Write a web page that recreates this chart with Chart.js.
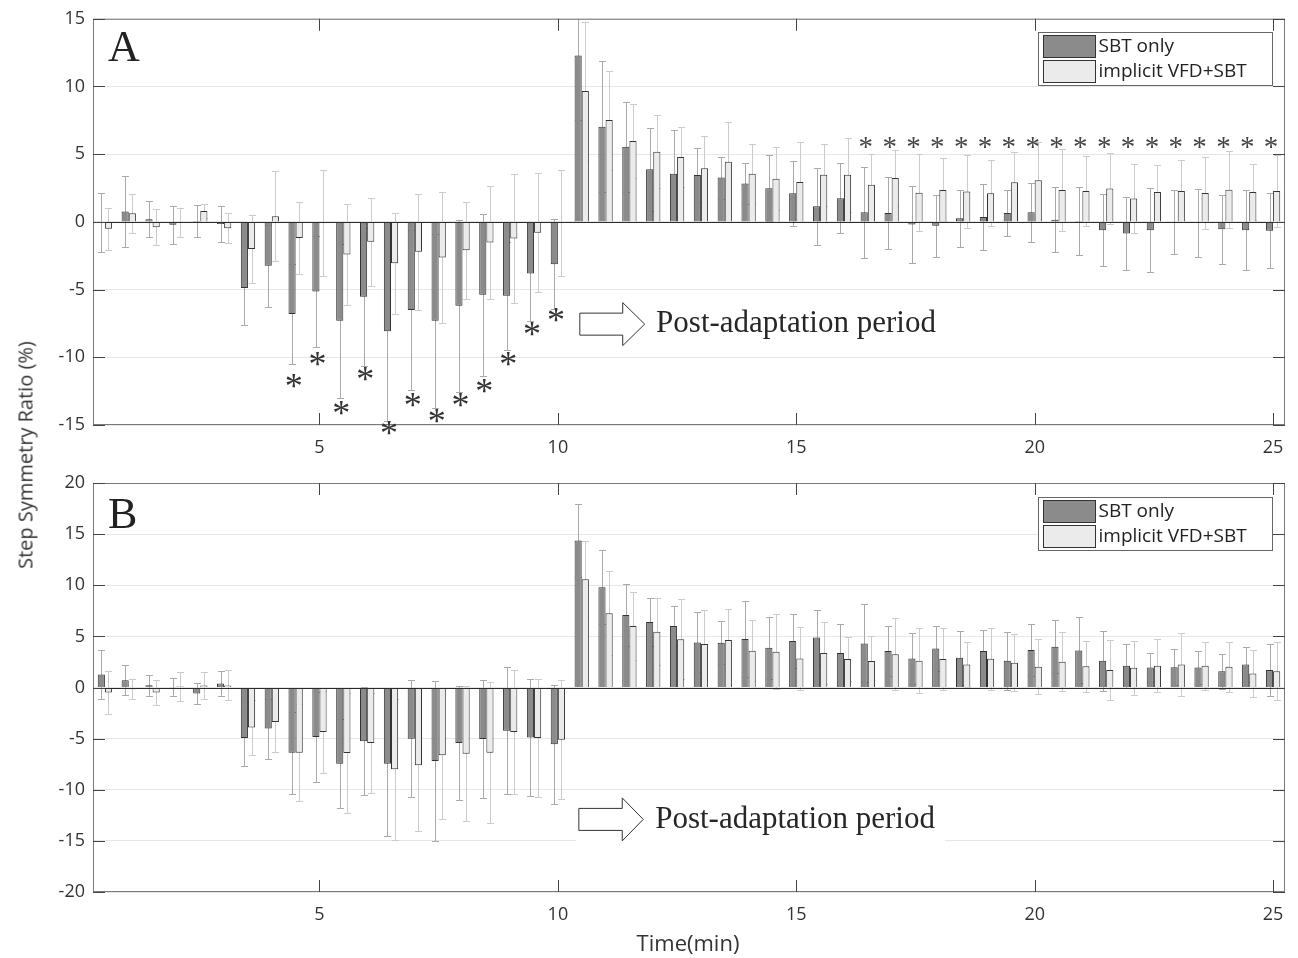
<!DOCTYPE html>
<html>
<head>
<meta charset="utf-8">
<script src="https://cdn.jsdelivr.net/npm/chart.js@4.4.0/dist/chart.umd.min.js"></script>
<style>
  body { margin: 0; background: #fff; width: 1298px; height: 958px; position: relative; overflow: hidden; font-family: 'Open Sans', sans-serif; }
  canvas { position: absolute; left: 0; }
  #chartA { top: 0; }
  #chartB { top: 460px; }
  .axTitle { position: absolute; white-space: nowrap; color: #333; transform: translate(-50%, -50%); }
  #ylab { left: 25px; top: 455px; font-size: 20px; transform: translate(-50%, -50%) rotate(-90deg); }
  #xlab { left: 688px; top: 942px; font-size: 22px; }
</style>
</head>
<body>
<canvas id="chartA" width="1298" height="460"></canvas>
<canvas id="chartB" width="1298" height="498"></canvas>
<div id="ylab" class="axTitle">Step Symmetry Ratio (%)</div>
<div id="xlab" class="axTitle">Time(min)</div>
<script>
// time points (min), one group of two bars each
const times = ['0.5','1','1.5','2','2.5','3','3.5','4','4.5','5','5.5','6','6.5','7','7.5','8','8.5','9','9.5','10',
  '10.5','11','11.5','12','12.5','13','13.5','14','14.5','15','15.5','16','16.5','17','17.5','18','18.5','19','19.5','20',
  '20.5','21','21.5','22','22.5','23','23.5','24','24.5','25'];
const xTickLabels = ['5','10','15','20','25'];
const seriesNames = ['SBT only', 'implicit VFD+SBT'];

// panel A
const sbtA = [-0.05, 0.76, 0.2, -0.21, 0.06, -0.15, -4.89, -3.24, -6.81, -5.14, -7.3, -5.53, -8.08, -6.51, -7.3, -6.19, -5.38, -5.45, -3.81, -3.12,
  12.29, 7.03, 5.55, 3.88, 3.56, 3.46, 3.27, 2.83, 2.48, 2.11, 1.15, 1.74, 0.71, 0.66, -0.2, -0.29, 0.27, 0.37, 0.66, 0.71,
  0.15, 0.07, -0.61, -0.86, -0.61, 0.0, -0.08, -0.54, -0.61, -0.66];
const sbtSdA = [2.2, 2.64, 1.33, 1.39, 1.17, 1.3, 2.73, 3.03, 3.68, 4.12, 5.7, 5.08, 6.59, 5.9, 6.43, 6.34, 6.0, 4.0, 3.49, 3.32,
  4.8, 4.84, 3.32, 3.07, 3.2, 2.0, 1.55, 1.54, 2.43, 2.38, 2.85, 2.58, 3.36, 2.69, 2.84, 2.31, 2.12, 2.41, 1.67, 2.18,
  2.4, 2.48, 2.67, 2.71, 3.1, 2.37, 2.52, 2.56, 2.95, 2.76];
const vfdA = [-0.5, 0.63, -0.4, -0.02, 0.81, -0.47, -2.0, 0.42, -1.18, -0.08, -2.41, -1.46, -3.06, -2.2, -2.63, -2.1, -1.52, -1.23, -0.81, -0.08,
  9.66, 7.52, 5.97, 5.18, 4.79, 3.96, 4.45, 3.56, 3.19, 2.95, 3.49, 3.49, 2.75, 3.24, 2.16, 2.36, 2.24, 2.11, 2.92, 3.07,
  2.36, 2.29, 2.46, 1.72, 2.21, 2.29, 2.14, 2.38, 2.21, 2.29];
const vfdSdA = [1.56, 1.46, 1.33, 1.08, 0.5, 1.1, 2.53, 3.34, 2.68, 3.9, 3.71, 3.25, 3.75, 4.29, 4.84, 3.6, 4.18, 4.79, 4.4, 3.95,
  5.1, 3.66, 2.75, 2.71, 2.24, 2.38, 2.95, 2.16, 2.34, 2.97, 2.28, 2.73, 2.24, 2.04, 2.83, 2.33, 2.68, 2.43, 2.24, 2.83,
  3.0, 2.58, 2.65, 2.53, 1.99, 2.28, 2.68, 2.85, 2.04, 2.65];
const starLowTimesA = ['4.5','5','5.5','6','6.5','7','7.5','8','8.5','9','9.5','10'];
const starLowValsA = [-11.72, -10.12, -13.71, -11.2, -15.25, -13.12, -14.37, -13.12, -12.09, -10.1, -7.89, -6.85];
const starHighTimesA = ['16.5','17','17.5','18','18.5','19','19.5','20','20.5','21','21.5','22','22.5','23','23.5','24','24.5','25'];
const starHighValsA = [5.85, 5.85, 5.85, 5.85, 5.85, 5.85, 5.85, 5.85, 5.85, 5.85, 5.85, 5.85, 5.85, 5.85, 5.85, 5.85, 5.85, 5.85];

// panel B
const sbtB = [1.27, 0.72, 0.23, 0.03, -0.59, 0.39, -4.93, -4.02, -6.37, -4.84, -7.45, -5.26, -7.45, -5.0, -7.19, -5.42, -5.03, -4.22, -4.9, -5.56,
  14.38, 9.8, 7.09, 6.41, 6.01, 4.41, 4.38, 4.74, 3.89, 4.54, 4.9, 3.37, 4.31, 3.56, 2.84, 3.82, 2.91, 3.56, 2.61, 3.66,
  3.99, 3.63, 2.61, 2.12, 1.96, 1.99, 1.96, 1.6, 2.25, 1.7];
const sbtSdB = [2.4, 1.44, 1.02, 0.87, 1.03, 1.19, 2.75, 2.94, 4.02, 4.41, 4.35, 5.29, 7.06, 5.75, 7.8, 5.6, 5.8, 6.24, 5.75, 5.83,
  3.6, 3.6, 3.0, 2.32, 2.0, 2.94, 2.09, 3.69, 3.04, 2.62, 2.68, 2.81, 3.82, 2.45, 2.45, 2.22, 2.65, 2.03, 2.81, 2.52,
  2.61, 3.23, 2.94, 2.12, 1.44, 1.74, 1.63, 1.7, 1.74, 2.52];
const vfdB = [-0.49, -0.16, -0.49, 0.13, 0.2, 0.2, -3.92, -3.37, -6.37, -4.35, -6.41, -5.42, -8.0, -7.61, -6.63, -6.47, -6.37, -4.35, -4.93, -5.1,
  10.59, 7.25, 6.01, 5.46, 4.71, 4.25, 4.64, 3.59, 3.5, 2.84, 3.37, 2.78, 2.58, 3.24, 2.61, 2.78, 2.25, 2.81, 2.42, 2.03,
  2.52, 2.09, 1.7, 1.93, 2.12, 2.25, 2.12, 2.03, 1.37, 1.6];
const vfdSdB = [2.09, 0.97, 1.22, 1.42, 1.34, 1.47, 2.7, 2.92, 4.77, 4.05, 5.87, 4.93, 6.9, 6.4, 6.24, 6.63, 6.9, 6.08, 5.81, 5.82,
  3.72, 4.1, 3.35, 3.3, 3.9, 3.3, 3.05, 2.99, 3.66, 3.09, 3.04, 2.12, 2.48, 3.53, 3.17, 3.07, 2.24, 3.04, 2.8, 2.71,
  2.87, 2.5, 2.94, 2.62, 2.59, 3.07, 2.37, 2.45, 2.33, 2.86];

Chart.defaults.font.family = "'Open Sans', sans-serif";
Chart.defaults.font.size = 18;
Chart.defaults.color = '#333';

function line(ctx, x1, y1, x2, y2) {
  ctx.beginPath(); ctx.moveTo(x1, y1); ctx.lineTo(x2, y2); ctx.stroke();
}

function drawStars(ctx, chart, tlist, vlist, font, color) {
  const x = chart.scales.x, y = chart.scales.y;
  ctx.font = font;
  ctx.fillStyle = color;
  ctx.textAlign = 'center';
  ctx.textBaseline = 'alphabetic';
  const m = ctx.measureText('*');
  const off = (m.actualBoundingBoxAscent - m.actualBoundingBoxDescent) / 2;
  tlist.forEach((t, i) => {
    const px = x.getPixelForValue(times.indexOf(t)) - 2;
    ctx.fillText('*', px, y.getPixelForValue(vlist[i]) + off);
  });
}

// error bars, baseline, box, inner ticks, letters, arrow, legend, stars
const panelDecor = {
  id: 'panelDecor',
  beforeDatasetsDraw(chart) {
    const {ctx, chartArea: a, scales: {y}} = chart;
    ctx.save();
    ctx.beginPath(); ctx.rect(a.left, a.top, a.width, a.height); ctx.clip();
    ctx.lineWidth = 1;
    chart.data.datasets.forEach((ds, di) => {
      ctx.strokeStyle = ds.errColor;
      chart.getDatasetMeta(di).data.forEach((bar, i) => {
        const m = ds.data[i], s = ds.sd[i];
        const y1 = Math.round(y.getPixelForValue(m + s)) + 0.5;
        const y2 = Math.round(y.getPixelForValue(m - s)) + 0.5;
        const cx = Math.round(bar.x) + 0.5;
        line(ctx, cx, y1, cx, y2);
        line(ctx, cx - 3.5, y1, cx + 3.5, y1);
        line(ctx, cx - 3.5, y2, cx + 3.5, y2);
      });
    });
    ctx.restore();
  },
  afterDatasetsDraw(chart, args, o) {
    const {ctx, chartArea: a, scales: {x, y}} = chart;
    ctx.save();
    ctx.lineWidth = 1;
    // bar baseline
    const y0 = Math.round(y.getPixelForValue(0)) + 0.5;
    ctx.strokeStyle = '#2a2a2a';
    line(ctx, a.left, y0, a.right, y0);
    // axes box
    ctx.strokeStyle = '#7a7a7a';
    ctx.strokeRect(a.left + 0.5, a.top + 0.5, a.width - 1, a.height - 1);
    ctx.strokeStyle = '#444';
    xTickLabels.forEach(l => {
      const px = Math.round(x.getPixelForValue(times.indexOf(l))) + 0.5;
      line(ctx, px, a.top, px, a.top + 12);
      line(ctx, px, a.bottom, px, a.bottom - 12);
    });
    y.ticks.forEach(t => {
      const py = Math.round(y.getPixelForValue(t.value)) + 0.5;
      line(ctx, a.left, py, a.left + 12, py);
      line(ctx, a.right, py, a.right - 12, py);
    });
    // panel letter
    ctx.fillStyle = '#222';
    ctx.font = '44px "Liberation Serif"';
    ctx.textAlign = 'left';
    ctx.textBaseline = 'alphabetic';
    ctx.fillText(o.letter, a.left + 15, a.top + o.letterBase);
    // arrow + label
    const xAt = t => x.getPixelForValue(2 * t - 1);
    const ax0 = xAt(o.arrow[0]), ax1 = xAt(o.arrow[1]), ax2 = xAt(o.arrow[2]);
    const ay = y.getPixelForValue(o.arrowY);
    ctx.font = '31px "Liberation Serif"';
    const tx = xAt(o.textT);
    const tw = ctx.measureText(o.text).width;
    ctx.fillStyle = '#fff';
    ctx.fillRect(ax0 - 3, ay - 26, tx + tw + 10 - (ax0 - 3), 54);
    ctx.beginPath();
    ctx.moveTo(ax0, ay - 11); ctx.lineTo(ax1, ay - 11); ctx.lineTo(ax1, ay - 21.5);
    ctx.lineTo(ax2, ay); ctx.lineTo(ax1, ay + 21.5); ctx.lineTo(ax1, ay + 11);
    ctx.lineTo(ax0, ay + 11); ctx.closePath();
    ctx.fill();
    ctx.strokeStyle = '#333';
    ctx.stroke();
    ctx.fillStyle = '#262626';
    ctx.textBaseline = 'middle';
    ctx.fillText(o.text, tx, ay);
    // legend
    const bw = 234, bh = 53;
    const bx = Math.round(a.right - 13 - bw) + 0.5, by = Math.round(a.top + o.legTop) + 0.5;
    ctx.fillStyle = '#fff';
    ctx.fillRect(bx, by, bw, bh);
    ctx.strokeStyle = '#666';
    ctx.strokeRect(bx, by, bw, bh);
    ctx.font = '19px "Open Sans"';
    chart.data.datasets.forEach((ds, i) => {
      const sy = by + 3 + i * 25;
      ctx.fillStyle = ds.backgroundColor;
      ctx.fillRect(bx + 5, sy, 52, 22);
      ctx.strokeStyle = '#333';
      ctx.strokeRect(bx + 5, sy, 52, 22);
      ctx.fillStyle = '#222';
      ctx.fillText(ds.label, bx + 60, sy + 11);
    });
    // significance markers
    (o.stars || []).forEach(s => drawStars(ctx, chart, s.times, s.vals, s.font, s.color));
    ctx.restore();
  }
};

function makePanel(id, sbt, sbtSd, vfd, vfdSd, yMin, yMax, pad, xHeight, decor) {
  return new Chart(document.getElementById(id), {
    type: 'bar',
    data: {
      labels: times,
      datasets: [
        { label: seriesNames[0], data: sbt, sd: sbtSd, errColor: '#a9a9a9', backgroundColor: '#8b8b8b', borderColor: '#333', borderWidth: 1 },
        { label: seriesNames[1], data: vfd, sd: vfdSd, errColor: '#cbcbcb', backgroundColor: '#ebebeb', borderColor: '#333', borderWidth: 1 }
      ]
    },
    options: {
      responsive: false,
      animation: false,
      categoryPercentage: 0.6,
      barPercentage: 1.0,
      layout: { padding: pad },
      plugins: { legend: { display: false }, tooltip: { enabled: false }, panelDecor: decor },
      scales: {
        x: {
          grid: { display: false, drawTicks: false },
          border: { display: false },
          ticks: {
            autoSkip: false, maxRotation: 0, padding: 12, color: '#333',
            callback(v) { const l = this.getLabelForValue(v); return xTickLabels.includes(l) ? l : ''; }
          },
          afterFit(s) { s.height = xHeight; }
        },
        y: {
          min: yMin, max: yMax,
          grid: { color: '#e6e6e6', drawTicks: false },
          border: { display: false },
          ticks: { stepSize: 5, padding: 8, color: '#333' },
          afterFit(s) { s.width = 93; }
        }
      }
    },
    plugins: [panelDecor]
  });
}

makePanel('chartA', sbtA, sbtSdA, vfdA, vfdSdA, -15, 15, { top: 18, right: 13, left: 0, bottom: 0 }, 35, {
  letter: 'A', letterBase: 42, legTop: 13,
  arrow: [10.46, 11.36, 11.82], arrowY: -7.55, textT: 12.06, text: 'Post-adaptation period',
  stars: [
    { times: starLowTimesA, vals: starLowValsA, font: '36px "Liberation Serif"', color: '#333' },
    { times: starHighTimesA, vals: starHighValsA, font: '29px "Liberation Serif"', color: '#444' }
  ]
});

makePanel('chartB', sbtB, sbtSdB, vfdB, vfdSdB, -20, 20, { top: 23, right: 13, left: 0, bottom: 0 }, 66, {
  letter: 'B', letterBase: 45, legTop: 14,
  arrow: [10.44, 11.35, 11.79], arrowY: -12.9, textT: 12.04, text: 'Post-adaptation period'
});
</script>
</body>
</html>
